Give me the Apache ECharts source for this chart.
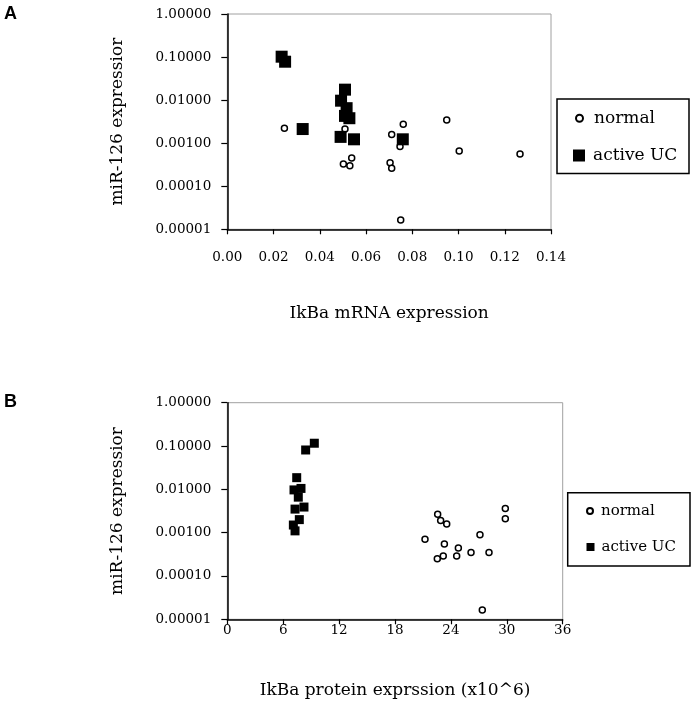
<!DOCTYPE html>
<html><head><meta charset="utf-8">
<script src="https://cdn.jsdelivr.net/npm/echarts@6/dist/echarts.min.js"></script>
<style>html,body{margin:0;padding:0;background:#fff}#c{width:696px;height:718px}</style>
</head><body><div id="c"></div>
<script>
// Panel A: IkBa mRNA expression vs miR-126 expression
const mrnaNormalX = [0.0247, 0.0509, 0.0538, 0.0502, 0.0530, 0.0711, 0.0761, 0.0747, 0.0704, 0.0711, 0.0750, 0.0949, 0.1003, 0.1266];
const mrnaNormalY = [0.00221, 0.00214, 0.00045, 0.00033, 0.00030, 0.00160, 0.00275, 0.00084, 0.00035, 0.00026, 0.0000165, 0.00345, 0.00066, 0.00056];
const mrnaUcX = [0.0235, 0.0250, 0.0326, 0.0509, 0.0492, 0.0516, 0.0509, 0.0528, 0.0490, 0.0548, 0.0759];
const mrnaUcY = [0.102, 0.078, 0.00213, 0.0175, 0.0097, 0.0065, 0.0043, 0.0038, 0.0014, 0.00123, 0.00123];
// Panel B: IkBa protein expression (x10^6) vs miR-126 expression
const protNormalX = [22.58, 22.90, 23.55, 21.22, 23.30, 24.80, 24.62, 23.18, 22.54, 26.16, 27.12, 28.09, 29.84, 29.84, 27.37];
const protNormalY = [0.00265, 0.0019, 0.00158, 0.00070, 0.00055, 0.00044, 0.00029, 0.00029, 0.00025, 0.00035, 0.00089, 0.00035, 0.0036, 0.0021, 0.0000164];
const protUcX = [9.34, 8.41, 7.45, 7.16, 7.91, 7.62, 7.27, 8.23, 7.73, 7.09, 7.27];
const protUcY = [0.116, 0.081, 0.0186, 0.0097, 0.0105, 0.0066, 0.0035, 0.0039, 0.0020, 0.0015, 0.0011];

const seriesNames = ['normal', 'active UC'];
const yAxisTitle = 'miR-126 expressior';
const xTitleA = 'IkBa mRNA expression';
const xTitleB = 'IkBa protein exprssion (x10^6)';
const xRangeA = [0, 0.14, 0.02];
const xRangeB = [0, 36, 6];
const yRange = [0.00001, 1];

const zip = (xs, ys) => xs.map((x, i) => [x, ys[i]]);
const serif = 'DejaVu Serif';

function yAxis(gi) {
  return {
    type: 'log', gridIndex: gi, min: yRange[0], max: yRange[1], logBase: 10,
    name: yAxisTitle, nameLocation: 'middle', nameGap: 101, nameRotate: 90,
    nameTextStyle: {fontFamily: serif, fontSize: 17, color: '#000'},
    axisLine: {show: true, lineStyle: {color: '#000', width: 1.5}},
    axisTick: {show: true, length: 6, lineStyle: {color: '#000', width: 1.2}},
    axisLabel: {fontFamily: serif, fontSize: 13.5, color: '#000', margin: 16,
      formatter: v => Number(v).toFixed(5)},
    splitLine: {show: false}
  };
}
function xAxis(gi, r, title, margin, gap, dec) {
  return {
    type: 'value', gridIndex: gi, min: r[0], max: r[1], interval: r[2],
    name: title, nameLocation: 'middle', nameGap: gap,
    nameTextStyle: {fontFamily: serif, fontSize: 17, color: '#000'},
    axisLine: {show: true, onZero: false, lineStyle: {color: '#000', width: 1.5}},
    axisTick: {show: true, length: 5, lineStyle: {color: '#000', width: 1.2}},
    axisLabel: {fontFamily: serif, fontSize: 13.5, color: '#000', margin: margin,
      formatter: v => Number(v).toFixed(dec)},
    splitLine: {show: false}
  };
}
const circleStyle = {color: '#fff', borderColor: '#000', borderWidth: 1.5, opacity: 1};
const squareStyle = {color: '#000', borderColor: '#000', borderWidth: 0, opacity: 1};

function legend(name, icon, left, top, size, fs, padL) {
  return {
    data: [{name: name, icon: icon}], orient: 'vertical', left: left, top: top,
    padding: 0, itemWidth: size, itemHeight: size, selectedMode: false,
    textStyle: {fontFamily: serif, fontSize: fs, color: '#000', lineHeight: 18, padding: [0, 0, 0, padL]}
  };
}

const chart = echarts.init(document.getElementById('c'), null, {renderer: 'canvas'});
chart.setOption({
  animation: false,
  backgroundColor: '#fff',
  grid: [
    {left: 227.3, top: 14, width: 323.7, height: 215.3, show: true, borderColor: '#a0a0a0', borderWidth: 1, containLabel: false},
    {left: 227.3, top: 402.7, width: 335.4, height: 216.6, show: true, borderColor: '#a0a0a0', borderWidth: 1, containLabel: false}
  ],
  xAxis: [xAxis(0, xRangeA, xTitleA, 21, 76, 2), xAxis(1, xRangeB, xTitleB, 4, 63, 0)],
  yAxis: [yAxis(0), yAxis(1)],
  legend: [
    legend(seriesNames[0], 'circle', 575, 109.3, 7, 17, 6),
    legend(seriesNames[1], 'rect', 573, 146.5, 12, 17, 3),
    legend(seriesNames[0], 'circle', 586, 502, 6, 15, 3),
    legend(seriesNames[1], 'rect', 586.5, 538, 8, 15, 2)
  ],
  graphic: [
    {type: 'text', left: 4, top: 5, style: {text: 'A', font: 'bold 18px "Liberation Sans"', fill: '#000'}},
    {type: 'text', left: 4, top: 393, style: {text: 'B', font: 'bold 18px "Liberation Sans"', fill: '#000'}},
    {type: 'rect', shape: {x: 557, y: 99, width: 132, height: 74.5}, style: {fill: 'none', stroke: '#000', lineWidth: 1.5}, z: 1},
    {type: 'rect', shape: {x: 567.7, y: 492.7, width: 122.3, height: 73.3}, style: {fill: 'none', stroke: '#000', lineWidth: 1.5}, z: 1}
  ],
  series: [
    {name: seriesNames[0], type: 'scatter', xAxisIndex: 0, yAxisIndex: 0, symbol: 'circle', symbolSize: 6, itemStyle: circleStyle, data: zip(mrnaNormalX, mrnaNormalY)},
    {name: seriesNames[1], type: 'scatter', xAxisIndex: 0, yAxisIndex: 0, symbol: 'rect', symbolSize: 12, itemStyle: squareStyle, data: zip(mrnaUcX, mrnaUcY)},
    {name: seriesNames[0], type: 'scatter', xAxisIndex: 1, yAxisIndex: 1, symbol: 'circle', symbolSize: 6, itemStyle: circleStyle, data: zip(protNormalX, protNormalY)},
    {name: seriesNames[1], type: 'scatter', xAxisIndex: 1, yAxisIndex: 1, symbol: 'rect', symbolSize: 9, itemStyle: squareStyle, data: zip(protUcX, protUcY)}
  ]
});
</script>
</body></html>
